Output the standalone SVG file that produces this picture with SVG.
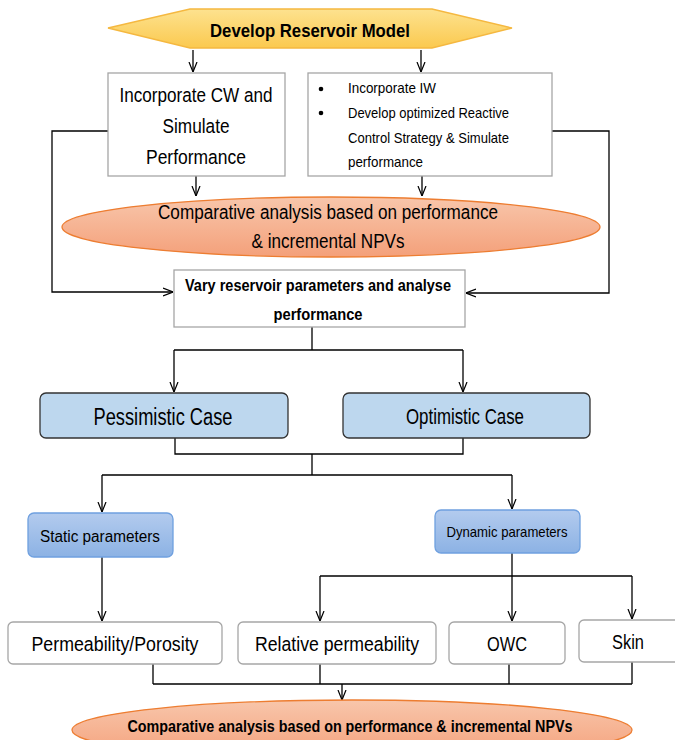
<svg xmlns="http://www.w3.org/2000/svg" width="675" height="740" viewBox="0 0 675 740">
<defs>
<linearGradient id="gHex" x1="0" y1="0" x2="0" y2="1"><stop offset="0" stop-color="#fde28f"/><stop offset="1" stop-color="#fbc94f"/></linearGradient>
<linearGradient id="gEll" x1="0" y1="0" x2="0" y2="1"><stop offset="0" stop-color="#f8c6ab"/><stop offset="1" stop-color="#f4a07a"/></linearGradient>
<linearGradient id="gBlue" x1="0" y1="0" x2="0" y2="1"><stop offset="0" stop-color="#b3cbee"/><stop offset="1" stop-color="#8cb2e4"/></linearGradient>
<marker id="arr" viewBox="0 0 10 10" refX="10" refY="5" markerWidth="10" markerHeight="10" markerUnits="userSpaceOnUse" orient="auto">
<path d="M0,1 L10,5 L0,9" fill="none" stroke="#000" stroke-width="1.2"/>
</marker>
<style>
.t{font-family:"Liberation Sans",Arial,sans-serif;fill:#000;text-anchor:middle}
.tl{font-family:"Liberation Sans",Arial,sans-serif;fill:#000}
.b{font-weight:bold}
.wbox{fill:#fff;stroke:#a6a6a6;stroke-width:1.3}
.case{fill:#bdd7ee;stroke:#333;stroke-width:1.3}
.param{fill:url(#gBlue);stroke:#6fa0df;stroke-width:1.3}
.ell{fill:url(#gEll);stroke:#ed7d31;stroke-width:1.3}
.c{fill:none;stroke:#000;stroke-width:1.3}
.a{marker-end:url(#arr)}
</style>
</defs>

<g id="connectors">
<path class="c a" d="M193,50 V72"/>
<path class="c a" d="M421,50 V72"/>
<path class="c a" d="M196,176 V196"/>
<path class="c a" d="M422,176 V196"/>
<path class="c a" d="M108,131 H52 V292 H173"/>
<path class="c a" d="M552,131 H609 V293 H466"/>
<path class="c" d="M312,327 V350 M174,350 H463"/>
<path class="c a" d="M174,350 V392"/>
<path class="c a" d="M463,350 V392"/>
<path class="c" d="M175,438 V454 H463 V438 M312,454 V475 M102,475 H512"/>
<path class="c a" d="M102,475 V512"/>
<path class="c a" d="M512,475 V509"/>
<path class="c a" d="M102,557 V621"/>
<path class="c a" d="M512,553 V621"/>
<path class="c" d="M320,576 H632"/>
<path class="c a" d="M320,576 V621"/>
<path class="c a" d="M632,576 V619"/>
<path class="c" d="M153,664 V684 M320,664 V684 M509,664 V684 M632,662 V684 M153,684 H632"/>
<path class="c a" d="M342,684 V700"/>
</g>

<g id="develop">
<polygon points="108,28 190,9 432,9 512,28 432,48 190,48" fill="url(#gHex)" stroke="#f5b840" stroke-width="1.3"/>
<text class="t b" x="310" y="37" font-size="19" textLength="200" lengthAdjust="spacingAndGlyphs">Develop Reservoir Model</text>
</g>

<g id="cw">
<rect class="wbox" x="108" y="73" width="177" height="103"/>
<text class="t" x="196" y="102" font-size="20.5" textLength="153" lengthAdjust="spacingAndGlyphs">Incorporate CW and</text>
<text class="t" x="196" y="133" font-size="20.5" textLength="67" lengthAdjust="spacingAndGlyphs">Simulate</text>
<text class="t" x="196" y="164" font-size="20.5" textLength="100" lengthAdjust="spacingAndGlyphs">Performance</text>
</g>

<g id="iw">
<rect class="wbox" x="308" y="73" width="244" height="103"/>
<circle cx="321" cy="89" r="2.3" fill="#000"/>
<circle cx="321" cy="113" r="2.3" fill="#000"/>
<text class="tl" x="348" y="93" font-size="15" textLength="88" lengthAdjust="spacingAndGlyphs">Incorporate IW</text>
<text class="tl" x="348" y="118" font-size="15" textLength="161" lengthAdjust="spacingAndGlyphs">Develop optimized Reactive</text>
<text class="tl" x="348" y="143" font-size="15" textLength="161" lengthAdjust="spacingAndGlyphs">Control Strategy &amp; Simulate</text>
<text class="tl" x="348" y="167" font-size="15" textLength="75" lengthAdjust="spacingAndGlyphs">performance</text>
</g>

<g id="compare1">
<ellipse class="ell" cx="331" cy="227" rx="269" ry="30"/>
<text class="t" x="328" y="219" font-size="19.5" textLength="340" lengthAdjust="spacingAndGlyphs">Comparative analysis based on performance</text>
<text class="t" x="328" y="248" font-size="19.5" textLength="153" lengthAdjust="spacingAndGlyphs">&amp; incremental NPVs</text>
</g>

<g id="vary">
<rect class="wbox" x="174" y="270" width="291" height="57"/>
<text class="t b" x="318" y="291" font-size="16" textLength="266" lengthAdjust="spacingAndGlyphs">Vary reservoir parameters and analyse</text>
<text class="t b" x="318" y="320" font-size="16" textLength="89" lengthAdjust="spacingAndGlyphs">performance</text>
</g>

<g id="pessimistic">
<rect class="case" x="40" y="393" width="248" height="45" rx="6"/>
<text class="t" x="163" y="425" font-size="23" textLength="139" lengthAdjust="spacingAndGlyphs">Pessimistic Case</text>
</g>

<g id="optimistic">
<rect class="case" x="343" y="393" width="247" height="45" rx="6"/>
<text class="t" x="465" y="424" font-size="21.5" textLength="118" lengthAdjust="spacingAndGlyphs">Optimistic Case</text>
</g>

<g id="static">
<rect class="param" x="28" y="513" width="145" height="44" rx="6"/>
<text class="t" x="100" y="542" font-size="16" textLength="120" lengthAdjust="spacingAndGlyphs">Static parameters</text>
</g>

<g id="dynamic">
<rect class="param" x="435" y="510" width="145" height="43" rx="6"/>
<text class="t" x="507" y="537" font-size="14.5" textLength="121" lengthAdjust="spacingAndGlyphs">Dynamic parameters</text>
</g>

<g id="permporo">
<rect class="wbox" x="8" y="622" width="214" height="42" rx="5"/>
<text class="t" x="115" y="651" font-size="20.5" textLength="167" lengthAdjust="spacingAndGlyphs">Permeability/Porosity</text>
</g>

<g id="relperm">
<rect class="wbox" x="238" y="622" width="198" height="42" rx="5"/>
<text class="t" x="337" y="651" font-size="20.5" textLength="164" lengthAdjust="spacingAndGlyphs">Relative permeability</text>
</g>

<g id="owc">
<rect class="wbox" x="449" y="622" width="116" height="42" rx="5"/>
<text class="t" x="507" y="651" font-size="20.5" textLength="40" lengthAdjust="spacingAndGlyphs">OWC</text>
</g>

<g id="skin">
<rect class="wbox" x="579" y="620" width="110" height="42" rx="5"/>
<text class="t" x="628" y="649" font-size="20.5" textLength="32" lengthAdjust="spacingAndGlyphs">Skin</text>
</g>

<g id="compare2">
<ellipse class="ell" cx="352" cy="730" rx="280" ry="30"/>
<text class="t b" x="350" y="732" font-size="16" textLength="445" lengthAdjust="spacingAndGlyphs">Comparative analysis based on performance &amp; incremental NPVs</text>
</g>
</svg>
